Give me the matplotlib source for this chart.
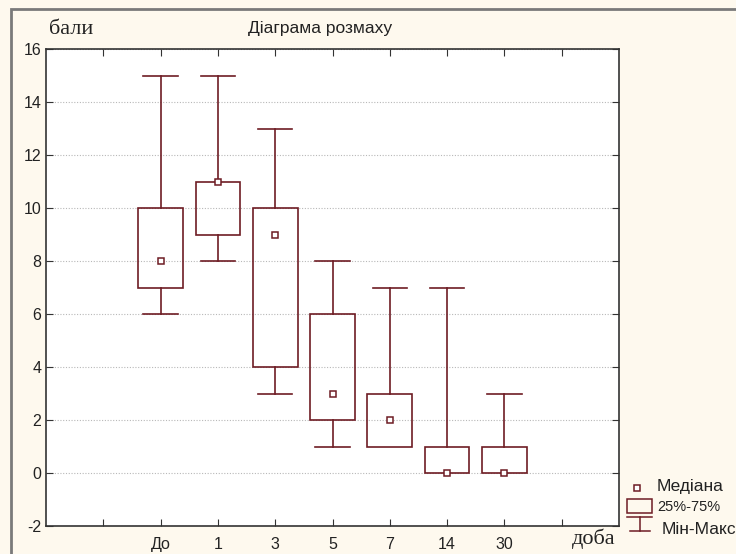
import matplotlib.pyplot as plt
from matplotlib.patches import Rectangle
from matplotlib.lines import Line2D

# Показники по добах: мін, 25%, медіана, 75%, макс
labels = ['До', '1', '3', '5', '7', '14', '30']
mins = [6, 8, 3, 1, 1, 0, 0]
q1 = [7, 9, 4, 2, 1, 0, 0]
medians = [8, 11, 9, 3, 2, 0, 0]
q3 = [10, 11, 10, 6, 3, 1, 1]
maxs = [15, 15, 13, 8, 7, 7, 3]

col = '#6e1c24'
bg = '#fef9ee'

plt.rcParams['font.family'] = ['Liberation Sans', 'DejaVu Sans']
plt.rcParams['axes.unicode_minus'] = False

fig = plt.figure(figsize=(7.36, 5.54), dpi=100, facecolor=bg)
W, H = 736, 554

# сіра рамка навколо
fig.patches.append(Rectangle((11 / W, -0.1), 1.2, 1 - 9 / H + 0.1, transform=fig.transFigure,
                             fill=False, edgecolor='#7a7a7a', linewidth=2))

ax = fig.add_axes([46 / W, 1 - 526 / H, (619 - 46) / W, (526 - 49) / H])
ax.set_facecolor('white')

pos = list(range(2, 2 + len(labels)))
bw = 0.78
cw = 0.6
for x, lo, a, m, b, hi in zip(pos, mins, q1, medians, q3, maxs):
    ax.add_patch(Rectangle((x - bw / 2, a), bw, b - a, fill=False, edgecolor=col, linewidth=1.2, zorder=3))
    if hi > b:
        ax.plot([x, x], [b, hi], color=col, lw=1.2, zorder=3)
        ax.plot([x - cw / 2, x + cw / 2], [hi, hi], color=col, lw=1.2, zorder=3)
    if lo < a:
        ax.plot([x, x], [lo, a], color=col, lw=1.2, zorder=3)
        ax.plot([x - cw / 2, x + cw / 2], [lo, lo], color=col, lw=1.2, zorder=3)
    ax.plot(x, m, marker='s', markersize=5, markerfacecolor='white', markeredgecolor=col,
            markeredgewidth=1.1, zorder=4)

ax.set_xlim(0, 10)
ax.set_ylim(-2, 16)
ax.set_yticks(range(-2, 17, 2))
ax.set_xticks(range(1, 10))
ax.set_xticklabels([''] + labels + [''])
ax.grid(axis='y', linestyle=(0, (1, 1.5)), color='#b8b8b8', linewidth=0.8)
ax.tick_params(direction='in', top=True, right=True, length=5, labelsize=11.5,
               colors='#333333', labelcolor='#222222')
ax.tick_params(axis='x', pad=8)
for s in ax.spines.values():
    s.set_color('#333333')
    s.set_linewidth(1.2)

fig.text(49 / W, 1 - 30 / H, 'бали', family='Liberation Serif', fontsize=16, va='center', color='#222222')
fig.text(320 / W, 1 - 28 / H, 'Діаграма розмаху', fontsize=12.5, ha='center', va='center', color='#222222')
fig.text(594 / W, 1 - 539 / H, 'доба', family='Liberation Serif', fontsize=16, ha='center', va='center',
         color='#222222')

# легенда
tf = fig.transFigure
def fx(p): return p / W
def fy(p): return 1 - p / H
fig.lines.append(Line2D([fx(637)], [fy(488)], transform=tf, marker='s', markersize=5,
                        markerfacecolor='white', markeredgecolor=col, markeredgewidth=1.1))
fig.patches.append(Rectangle((fx(627), fy(513)), fx(652) - fx(627), fy(499) - fy(513), transform=tf,
                             fill=False, edgecolor=col, linewidth=1.1))
fig.lines.append(Line2D([fx(627), fx(652)], [fy(517), fy(517)], transform=tf, color=col, lw=1.1))
fig.lines.append(Line2D([fx(639.5), fx(639.5)], [fy(517), fy(531)], transform=tf, color=col, lw=1.1))
fig.lines.append(Line2D([fx(630), fx(650)], [fy(531), fy(531)], transform=tf, color=col, lw=1.1))
fig.text(fx(657), fy(487), 'Медіана', fontsize=12.5, va='center', color='#222222')
fig.text(fx(657), fy(507), '25%-75%', fontsize=10.5, va='center', color='#222222')
fig.text(fx(662), fy(530), 'Мін-Макс', fontsize=12.5, va='center', color='#222222')

fig.savefig('out.png', dpi=100, facecolor=bg)
